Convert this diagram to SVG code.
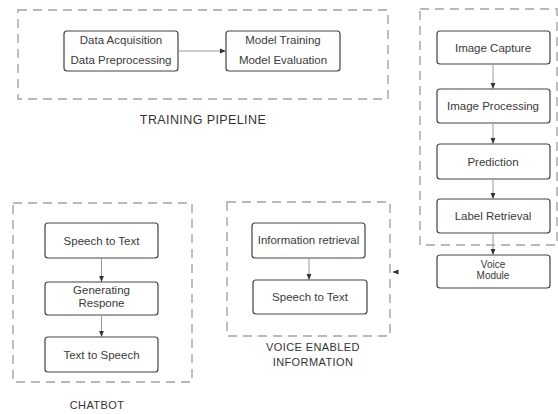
<svg xmlns="http://www.w3.org/2000/svg" width="558" height="414" viewBox="0 0 558 414">
<style>
.bg{fill:#fff}
.grp{fill:none;stroke:#a3a3a3;stroke-width:1.4;stroke-dasharray:9 6}
.box{fill:#fff;stroke:#3f4247;stroke-width:1.2}
.t{font-family:"Liberation Sans",Arial,sans-serif;font-size:11.5px;fill:#3a3a3a;text-anchor:middle}
.lbl{font-family:"Liberation Sans",Arial,sans-serif;font-size:11px;fill:#333;text-anchor:middle;letter-spacing:0.4px}
.c{stroke:#9a9a9a;stroke-width:1;fill:none;marker-end:url(#ah)}
</style>
<defs>
<marker id="ah" viewBox="0 0 10 10" refX="10" refY="5" markerWidth="6" markerHeight="6" markerUnits="userSpaceOnUse" orient="auto">
<path d="M0,1 L10,5 L0,9 z" fill="#333"/>
</marker>
</defs>
<rect class="bg" x="0" y="0" width="558" height="414"/>
<g id="training-pipeline">
<rect class="grp" x="18" y="10" width="370" height="89"/>
<text class="lbl" x="203" y="124" style="font-size:12.5px">TRAINING PIPELINE</text>
</g>
<g id="data-node">
<rect class="box" x="64" y="31" width="114" height="40" rx="3"/>
<text class="t" x="121" y="44">Data Acquisition</text>
<text class="t" x="121" y="64">Data Preprocessing</text>
</g>
<g id="model-node">
<rect class="box" x="226" y="31" width="114" height="40" rx="3"/>
<text class="t" x="283" y="44">Model Training</text>
<text class="t" x="283" y="64">Model Evaluation</text>
</g>
<g id="vision-group">
<rect class="grp" x="420" y="9" width="137" height="236"/>
</g>
<g id="image-capture">
<rect class="box" x="437" y="31" width="113" height="33" rx="3"/>
<text class="t" x="493" y="51.5">Image Capture</text>
</g>
<g id="image-processing">
<rect class="box" x="437" y="89" width="113" height="34" rx="3"/>
<text class="t" x="493" y="110">Image Processing</text>
</g>
<g id="prediction">
<rect class="box" x="437" y="144" width="113" height="35" rx="3"/>
<text class="t" x="493" y="165.5">Prediction</text>
</g>
<g id="label-retrieval">
<rect class="box" x="437" y="199" width="113" height="34" rx="3"/>
<text class="t" x="493" y="220">Label Retrieval</text>
</g>
<g id="voice-module">
<rect class="box" x="437" y="255" width="113" height="33" rx="3"/>
<text class="t" x="493" y="267.5" style="font-size:10px">Voice</text>
<text class="t" x="493" y="279" style="font-size:10px">Module</text>
</g>
<g id="chatbot-group">
<rect class="grp" x="13" y="203" width="179" height="179"/>
<text class="lbl" x="97" y="409">CHATBOT</text>
</g>
<g id="chat-stt">
<rect class="box" x="45" y="223" width="113" height="35" rx="3"/>
<text class="t" x="101.5" y="244.5">Speech to Text</text>
</g>
<g id="chat-gen">
<rect class="box" x="45" y="282" width="113" height="33" rx="3"/>
<text class="t" x="101.5" y="294">Generating</text>
<text class="t" x="101.5" y="306.5">Respone</text>
</g>
<g id="chat-tts">
<rect class="box" x="45" y="337" width="113" height="35" rx="3"/>
<text class="t" x="101.5" y="358.5">Text to Speech</text>
</g>
<g id="voice-info-group">
<rect class="grp" x="227" y="202" width="163" height="134"/>
<text class="lbl" x="313" y="351">VOICE ENABLED</text>
<text class="lbl" x="313" y="366">INFORMATION</text>
</g>
<g id="info-retrieval">
<rect class="box" x="252" y="223" width="113" height="35" rx="3"/>
<text class="t" x="308.5" y="244">Information retrieval</text>
</g>
<g id="voice-stt">
<rect class="box" x="253" y="280" width="114" height="34" rx="3"/>
<text class="t" x="310" y="301">Speech to Text</text>
</g>
<g id="connectors">
<line class="c" x1="178" y1="51" x2="226" y2="51"/>
<line class="c" x1="493" y1="64" x2="493" y2="89"/>
<line class="c" x1="493" y1="123" x2="493" y2="144"/>
<line class="c" x1="493" y1="179" x2="493" y2="199"/>
<line class="c" x1="493" y1="233" x2="493" y2="255"/>
<line class="c" x1="101.5" y1="258" x2="101.5" y2="282"/>
<line class="c" x1="101.5" y1="315" x2="101.5" y2="337"/>
<line class="c" x1="309" y1="258" x2="309" y2="280"/>
<line class="c" x1="397" y1="272" x2="392.5" y2="272"/>
</g>
</svg>
